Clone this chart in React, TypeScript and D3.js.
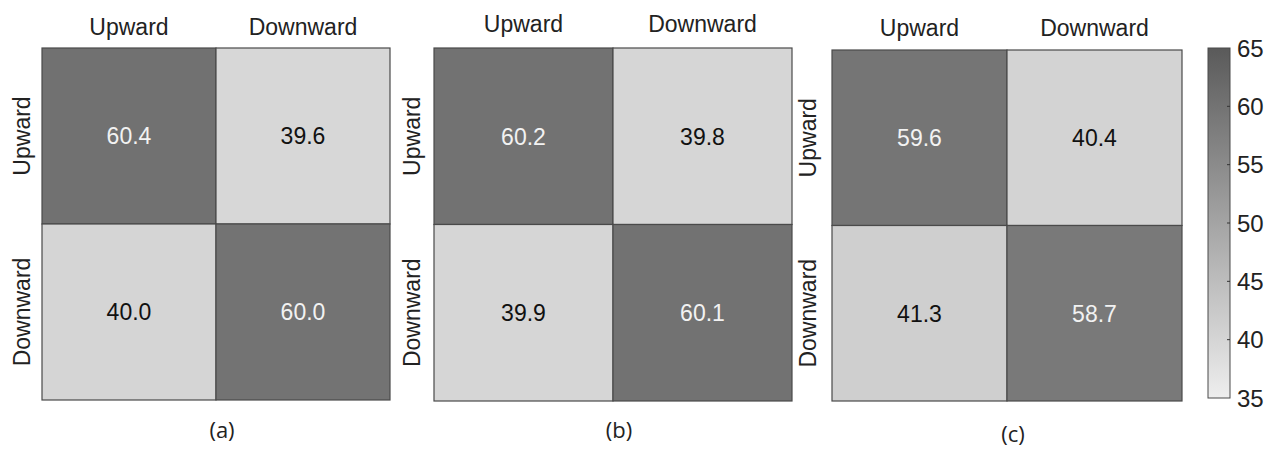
import React from "react";
import * as d3 from "d3";

const categories = ["Upward", "Downward"];
const panelLabels = ["(a)", "(b)", "(c)"];
const valuesA = [[60.4, 39.6], [40.0, 60.0]];
const valuesB = [[60.2, 39.8], [39.9, 60.1]];
const valuesC = [[59.6, 40.4], [41.3, 58.7]];
const colorTicks = [35, 40, 45, 50, 55, 60, 65];

const panels = [
  { vals: valuesA, x0: 42, x1: 390, y0: 48, y1: 400, ylab: 22, top: 35, cap: 438 },
  { vals: valuesB, x0: 434, x1: 792, y0: 48, y1: 401, ylab: 412, top: 32, cap: 438 },
  { vals: valuesC, x0: 832, x1: 1182, y0: 50, y1: 401, ylab: 808, top: 36, cap: 442 },
];

const color = d3.scaleLinear<string>().domain([35, 65]).range(["#eeeeee", "#5a5a5a"]);
const FONT = "Liberation Sans, Arial, sans-serif";

export default function App() {
  const cb = { x: 1208, w: 22, y0: 48, y1: 398 };
  const cbScale = d3.scaleLinear().domain([35, 65]).range([cb.y1, cb.y0]);
  const stops = d3.range(0, 11).map((i) => 35 + i * 3);
  return (
    <svg width={1271} height={450} style={{ position: "absolute", left: 0, top: 0, background: "#fff" }}>
      <defs>
        <linearGradient id="cbg" x1="0" y1="1" x2="0" y2="0">
          {stops.map((v) => (
            <stop key={v} offset={(v - 35) / 30} stopColor={color(v)} />
          ))}
        </linearGradient>
      </defs>
      {panels.map((p, pi) => {
        const xs = d3.scaleBand().domain(categories).range([p.x0, p.x1]);
        const ys = d3.scaleBand().domain(categories).range([p.y0, p.y1]);
        return (
          <g key={pi} fontFamily={FONT}>
            {categories.map((r, ri) =>
              categories.map((c, ci) => {
                const v = p.vals[ri][ci];
                return (
                  <g key={r + c}>
                    <rect x={xs(c)} y={ys(r)} width={xs.bandwidth()} height={ys.bandwidth()} fill={color(v)} stroke="#4a4a4a" strokeWidth={1.2} />
                    <text x={xs(c)! + xs.bandwidth() / 2} y={ys(r)! + ys.bandwidth() / 2} dy="0.36em" textAnchor="middle" fontSize={23} fill={v > 50 ? "#f2f2f2" : "#111"}>
                      {v.toFixed(1)}
                    </text>
                  </g>
                );
              })
            )}
            {categories.map((c) => (
              <text key={"x" + c} x={xs(c)! + xs.bandwidth() / 2} y={p.top} textAnchor="middle" fontSize={23} fill="#222">
                {c}
              </text>
            ))}
            {categories.map((r) => (
              <text key={"y" + r} transform={`translate(${p.ylab},${ys(r)! + ys.bandwidth() / 2}) rotate(-90)`} dy="0.36em" textAnchor="middle" fontSize={23} fill="#222">
                {r}
              </text>
            ))}
            <text x={(p.x0 + p.x1) / 2 + 6} y={p.cap} textAnchor="middle" fontSize={22} fontFamily="Open Sans, Noto Sans, sans-serif" fill="#222">
              {panelLabels[pi]}
            </text>
          </g>
        );
      })}
      <rect x={cb.x} y={cb.y0} width={cb.w} height={cb.y1 - cb.y0} fill="url(#cbg)" stroke="#4a4a4a" strokeWidth={1} />
      {colorTicks.map((t) => (
        <g key={t}>
          {t !== 35 && t !== 65 && <line x1={cb.x + cb.w - 3} x2={cb.x + cb.w} y1={cbScale(t)} y2={cbScale(t)} stroke="#333" />}
          <text x={1237} y={cbScale(t)} dy="0.36em" fontSize={24} fontFamily={FONT} fill="#222">
            {t}
          </text>
        </g>
      ))}
    </svg>
  );
}
